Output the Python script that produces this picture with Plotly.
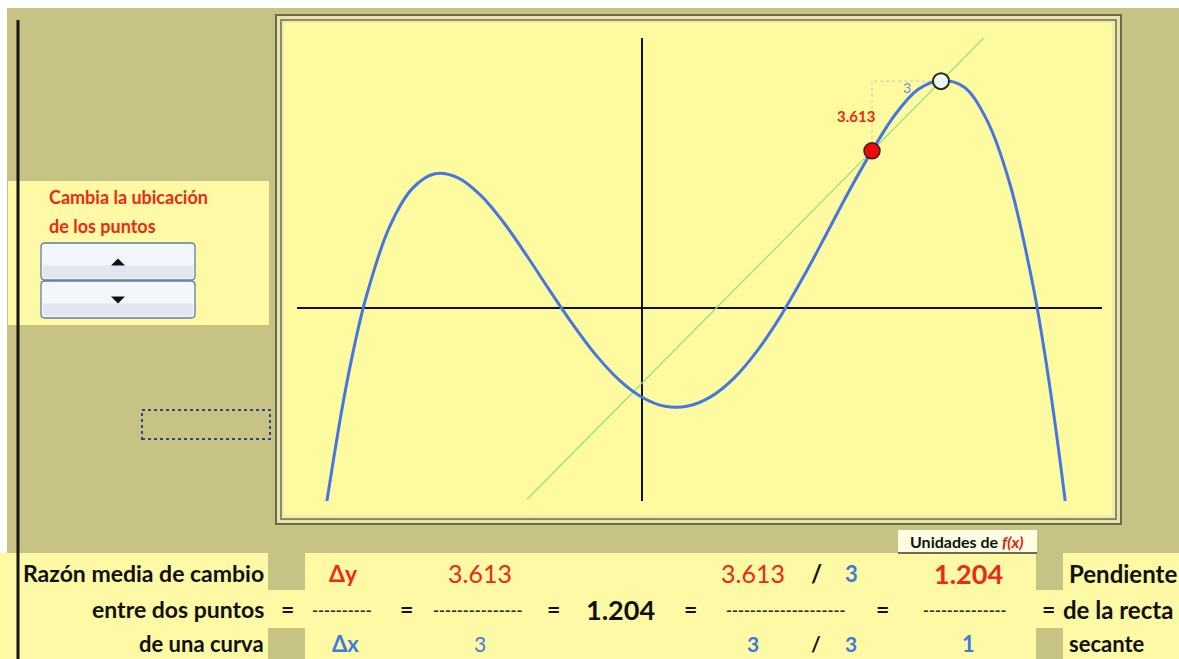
import plotly.graph_objects as go

W, H = 1179, 659

# ---------------- data ----------------
curve_x = [-13.7, -13, -12.5, -12, -11, -10, -9, -8, -7, -6, -5, -4, -3, -2, -1, 0,
           1, 2, 3, 4, 5, 6, 7, 8, 9, 10, 11, 12, 13, 14, 15, 16, 17, 17.5, 18, 18.4]
curve_y = [-10.0, -4.93, -1.93, 0.55, 4.15, 6.18, 6.96, 6.75, 5.83, 4.41, 2.70, 0.89,
           -0.86, -2.44, -3.72, -4.62, -5.09, -5.08, -4.59, -3.63, -2.23, -0.47, 1.58,
           3.80, 6.06, 8.15, 10.02, 11.33, 11.80, 11.46, 9.73, 6.42, 1.17, -2.28, -6.34, -10.0]
point_x = [10, 13]
point_y = [8.15, 11.763]
delta_x = 3
delta_y = 3.613
slope = 1.204
secant_x = [-5.0, 14.9]
x_range = [-15, 20]
y_range = [-10, 14]

row1_labels = ["Razón media de cambio", "Δy", "3.613", "3.613", "/", "3", "1.204", "Pendiente"]
row2_labels = ["entre dos puntos", "=", "----------", "=", "---------------", "=", "1.204", "=",
               "--------------------", "=", "--------------", "=", "de la recta"]
row3_labels = ["de una curva", "Δx", "3", "3", "/", "3", "1", "secante"]

# ---------------- helpers ----------------
def X(px):
    return px / W

def Y(py):
    return 1 - py / H

KHAKI = "#c7c384"
YEL = "#fefa9f"
PANEL = "#fdf9a4"
RED = "#ee2a14"
BLUE = "#3f7bdc"
FONT = "Lato"

shapes = []

def rect(x0, y0, x1, y1, fill, line=None, lw=0, dash=None, layer="below"):
    d = dict(type="rect", xref="paper", yref="paper", x0=X(x0), x1=X(x1), y0=Y(y1), y1=Y(y0),
             fillcolor=fill, layer=layer, line=dict(width=lw, color=line or "rgba(0,0,0,0)"))
    if dash:
        d["line"]["dash"] = dash
    shapes.append(d)

def pline(x0, y0, x1, y1, color, lw, layer="below"):
    shapes.append(dict(type="line", xref="paper", yref="paper", x0=X(x0), x1=X(x1), y0=Y(y0), y1=Y(y1),
                       line=dict(color=color, width=lw), layer=layer))

def rrect(x0, y0, x1, y1, r, fill, line, lw):
    p = (f"M {X(x0+r)} {Y(y0)} L {X(x1-r)} {Y(y0)} Q {X(x1)} {Y(y0)} {X(x1)} {Y(y0+r)} "
         f"L {X(x1)} {Y(y1-r)} Q {X(x1)} {Y(y1)} {X(x1-r)} {Y(y1)} L {X(x0+r)} {Y(y1)} "
         f"Q {X(x0)} {Y(y1)} {X(x0)} {Y(y1-r)} L {X(x0)} {Y(y0+r)} Q {X(x0)} {Y(y0)} {X(x0+r)} {Y(y0)} Z")
    shapes.append(dict(type="path", xref="paper", yref="paper", path=p, fillcolor=fill,
                       line=dict(width=lw, color=line), layer="below"))

def tri(cx, cy, up=True, w=7, h=7):
    if up:
        p = f"M {X(cx-w)} {Y(cy+h/2)} L {X(cx+w)} {Y(cy+h/2)} L {X(cx)} {Y(cy-h/2)} Z"
    else:
        p = f"M {X(cx-w)} {Y(cy-h/2)} L {X(cx+w)} {Y(cy-h/2)} L {X(cx)} {Y(cy+h/2)} Z"
    shapes.append(dict(type="path", xref="paper", yref="paper", path=p, fillcolor="#111111",
                       line=dict(width=0), layer="above"))

# background pieces
rect(0, 0, W, 8, "#ffffff")
rect(0, 0, 7, H, "#ffffff")
# left panel with buttons
rect(8, 181, 269, 325, PANEL)
# bottom band
rect(0, 553, W, H, PANEL)
rect(268, 553, 305, 590, KHAKI)
rect(268, 628, 305, H, KHAKI)
rect(1036, 553, 1063, 590, KHAKI)
rect(1036, 628, 1063, H, KHAKI)
# "Unidades de f(x)" box
rect(898, 530, 1037, 553, "#fffde2")
pline(898, 553, 1037, 553, "#3a3a2a", 1.5)
# chart frame (bevelled)
rect(275, 14, 1122, 525, "#6f6d3f")
rect(277, 16, 1120, 523, "#e6e3b8")
rect(280, 19, 1117, 520, "#8f8c58")
rect(282, 21, 1115, 518, "#eeeab0")
rect(284, 23, 1112, 515, YEL)
# left black border line
pline(18, 20, 18, H, "#15150c", 3)
# dotted rectangle
rect(142, 410, 270, 439, "rgba(0,0,0,0)", line="#3e3e8c", lw=2, dash="dot")

# buttons
for (y0, y1) in [(243, 280), (281, 318)]:
    rrect(41, y0, 195, y1, 4, "#f3f6fb", "#5f7fa6", 1.3)
    rect(43, (y0 + y1) / 2 + 4, 193, y1 - 2, "#e1e6f0")
tri(118, 262, up=True)
tri(118, 300, up=False)

# ---------------- traces ----------------
secant_y = [point_y[0] + slope * (sx - point_x[0]) for sx in secant_x]

fig = go.Figure()
fig.add_trace(go.Scatter(x=secant_x, y=secant_y, mode="lines",
                         line=dict(color="#92e07e", width=1.2), hoverinfo="skip"))
fig.add_trace(go.Scatter(x=[point_x[0], point_x[0], point_x[1]],
                         y=[point_y[0], point_y[1], point_y[1]], mode="lines",
                         line=dict(color="#c8c6b4", width=1, dash="dot"), hoverinfo="skip"))
fig.add_trace(go.Scatter(x=curve_x, y=curve_y, mode="lines", line_shape="spline",
                         line=dict(color="#4676e2", width=3), hoverinfo="skip"))
fig.add_trace(go.Scatter(x=[point_x[0]], y=[point_y[0]], mode="markers",
                         marker=dict(size=16, color="#ee0a0a", line=dict(color="#3a1a10", width=1.5))))
fig.add_trace(go.Scatter(x=[point_x[1]], y=[point_y[1]], mode="markers",
                         marker=dict(size=16, color="#eef6f2", line=dict(color="#2a2a20", width=2))))

ann = []
ann.append(dict(x=point_x[0] + 0.2, y=point_y[0] + 1.8, xref="x", yref="y", text=f"<b>{delta_y:.3f}</b>",
                showarrow=False, xanchor="right", font=dict(family=FONT, size=15, color=RED)))
ann.append(dict(x=point_x[1] - 1.5, y=point_y[1] - 0.35, xref="x", yref="y", text=str(delta_x),
                showarrow=False, xanchor="center", font=dict(family=FONT, size=14, color="#6a90d8")))

def txt(s, px, py, size=23, color="#111111", bold=True, anchor="center"):
    t = f"<b>{s}</b>" if bold else s
    ann.append(dict(x=X(px), y=Y(py), xref="paper", yref="paper", text=t, showarrow=False,
                    xanchor=anchor, yanchor="middle", font=dict(family=FONT, size=size, color=color)))

txt("Cambia la ubicación", 47, 197, size=18, color=RED, anchor="left")
txt("de los puntos", 47, 226, size=18, color=RED, anchor="left")
txt("Unidades de <i><span style='color:#e8200c'>f(x)</span></i>", 967, 541, size=16)

# row 1
r1 = 573
txt(row1_labels[0], 266, r1, anchor="right")
txt(row1_labels[1], 343, r1, size=23, color=RED)
txt(row1_labels[2], 480, r1, size=25, color=RED, bold=False)
txt(row1_labels[3], 753, r1, size=25, color=RED, bold=False)
txt(row1_labels[4], 816, r1, size=24)
txt(row1_labels[5], 851, r1, size=22, color=BLUE)
txt(row1_labels[6], 968, r1, size=27, color=RED)
txt(row1_labels[7], 1067, r1, size=24, anchor="left")
# row 2
r2 = 609
txt(row2_labels[0], 266, r2, anchor="right")
xs2 = [287, 342, 406, 478, 553, 620, 690, 785, 882, 965, 1048]
for lab, xx in zip(row2_labels[1:12], xs2):
    if lab == "1.204":
        txt(lab, xx, r2, size=27)
    elif lab == "=":
        txt(lab, xx, r2, size=23)
    else:
        txt(lab, xx, r2, size=16, color="#2a2a2a")
txt(row2_labels[12], 1061, r2, size=24, anchor="left")
# row 3
r3 = 643
txt(row3_labels[0], 266, r3, size=22, anchor="right")
txt(row3_labels[1], 345, r3, size=22, color=BLUE)
txt(row3_labels[2], 480, r3, size=21, color=BLUE, bold=False)
txt(row3_labels[3], 753, r3, size=21, color=BLUE)
txt(row3_labels[4], 816, r3, size=21)
txt(row3_labels[5], 851, r3, size=21, color=BLUE)
txt(row3_labels[6], 968, r3, size=22, color=BLUE)
txt(row3_labels[7], 1067, r3, size=22, anchor="left")

axis_common = dict(showgrid=False, showticklabels=False, ticks="", showline=False,
                   zeroline=True, zerolinecolor="#111111", zerolinewidth=2, fixedrange=True)
fig.update_layout(
    width=W, height=H, margin=dict(l=0, r=0, t=0, b=0),
    paper_bgcolor=KHAKI, plot_bgcolor="rgba(0,0,0,0)",
    showlegend=False,
    xaxis=dict(range=x_range, domain=[X(297), X(1102)], **axis_common),
    yaxis=dict(range=y_range, domain=[Y(501), Y(38)], **axis_common),
    shapes=shapes, annotations=ann,
)
fig.write_html("out.html", config={"displayModeBar": False},
               post_script="document.body.style.margin='0px';document.body.style.overflow='hidden';")
